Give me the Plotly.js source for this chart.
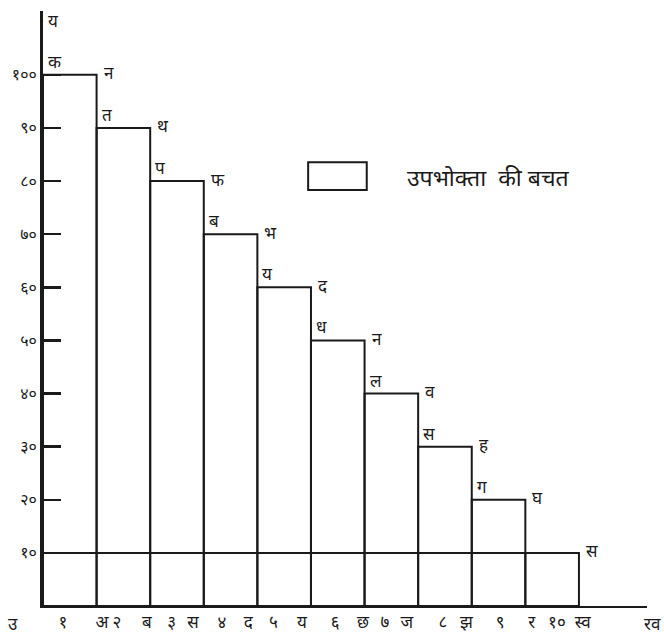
<!DOCTYPE html>
<html>
<head>
<meta charset="utf-8">
<script src="https://cdn.plot.ly/plotly-3.0.1.min.js"></script>
<style>html,body{margin:0;padding:0;background:#fff;}#chart{width:664px;height:636px;}</style>
</head>
<body>
<div id="chart"></div>
<script>
// Units bought (x) and price / utility per unit (y)
const units = [1, 2, 3, 4, 5, 6, 7, 8, 9, 10];
const utility = [100, 90, 80, 70, 60, 50, 40, 30, 20, 10];
const price = 10;
const leftCornerLabels = ["क", "त", "प", "ब", "य", "ध", "ल", "स", "ग", ""];
const rightCornerLabels = ["न", "थ", "फ", "भ", "द", "न", "व", "ह", "घ", "स"];
const yTickVals = [10, 20, 30, 40, 50, 60, 70, 80, 90, 100];
const yTickText = ["१०", "२०", "३०", "४०", "५०", "६०", "७०", "८०", "९०", "१००"];
const xNumLabels = ["१", "२", "३", "४", "५", "६", "७", "८", "९", "१०"];
const xNumPos = [0.37, 1.38, 2.4, 3.34, 4.3, 5.45, 6.38, 7.46, 8.53, 9.59];
const xLetLabels = ["अ", "ब", "स", "द", "य", "छ", "ज", "झ", "र", "स्व"];
const xLetPos = [1.1, 1.94, 2.8, 3.83, 4.83, 5.97, 6.79, 7.9, 9.12, 10.07];
const legendText = "उपभोक्ता &nbsp;की बचत";
const originLabel = "उ", xAxisEndLabel = "रव", yAxisEndLabel = "य";

const FONT = "'Noto Sans', 'Noto Sans Devanagari', 'Lohit Devanagari', sans-serif";
const INK = "#1a1a1a";

const barTrace = {
  type: "bar",
  x: units.map(u => u - 0.5),
  y: utility,
  width: 1,
  marker: {color: "rgba(255,255,255,0)", line: {color: INK, width: 2}},
  hoverinfo: "x+y",
  showlegend: false
};
const priceLine = {
  type: "scatter",
  mode: "lines",
  x: [0, units[units.length - 1]],
  y: [price, price],
  line: {color: INK, width: 2},
  showlegend: false,
  hoverinfo: "skip"
};

const annotations = [];
units.forEach((u, i) => {
  if (leftCornerLabels[i]) {
    annotations.push({x: u - 1, y: utility[i], xref: "x", yref: "y", text: leftCornerLabels[i],
      showarrow: false, xanchor: "left", yanchor: "bottom", xshift: 3, yshift: 0,
      font: {family: FONT, size: 17, color: INK}});
  }
  annotations.push({x: u, y: utility[i], xref: "x", yref: "y", text: rightCornerLabels[i],
    showarrow: false, xanchor: "left", yanchor: "middle", xshift: 5, yshift: 2,
    font: {family: FONT, size: 17, color: INK}});
});
annotations.push({x: -0.05, y: 0, xref: "paper", yref: "y", text: originLabel, showarrow: false,
  xanchor: "center", yanchor: "top", yshift: -4, font: {family: FONT, size: 17, color: INK}});
annotations.push({x: 1, y: 0, xref: "paper", yref: "y", text: xAxisEndLabel, showarrow: false,
  xanchor: "right", yanchor: "top", xshift: 16, yshift: -4, font: {family: FONT, size: 17, color: INK}});
annotations.push({x: 0, y: 112, xref: "x", yref: "y", text: yAxisEndLabel, showarrow: false,
  xanchor: "left", yanchor: "top", xshift: 3, yshift: 4, font: {family: FONT, size: 17, color: INK}});
annotations.push({x: 0.599, y: 0.721, xref: "paper", yref: "paper", text: legendText, showarrow: false,
  xanchor: "left", yanchor: "middle", font: {family: FONT, size: 23, color: INK}});

const layout = {
  width: 664, height: 636,
  margin: {l: 43, r: 17, t: 11, b: 30, pad: 0},
  paper_bgcolor: "#ffffff", plot_bgcolor: "#ffffff",
  showlegend: false,
  bargap: 0,
  xaxis: {
    range: [0, 11.27], showgrid: false, zeroline: false,
    showline: true, linecolor: INK, linewidth: 2,
    tickmode: "array", tickvals: xNumPos.concat(xLetPos), ticktext: xNumLabels.concat(xLetLabels),
    ticks: "", tickfont: {family: FONT, size: 17, color: INK}, fixedrange: true
  },
  yaxis: {
    range: [0, 112], showgrid: false, zeroline: false,
    showline: true, linecolor: INK, linewidth: 3,
    tickmode: "array", tickvals: yTickVals, ticktext: yTickText,
    ticks: "inside", ticklen: 18, tickwidth: 2.5, tickcolor: INK,
    tickfont: {family: FONT, size: 16, color: INK}, fixedrange: true
  },
  shapes: [{type: "rect", xref: "paper", yref: "paper", x0: 0.439, x1: 0.536, y0: 0.699, y1: 0.746,
    line: {color: INK, width: 2}, fillcolor: "rgba(0,0,0,0)"}],
  annotations: annotations
};

Plotly.newPlot("chart", [barTrace, priceLine], layout, {displayModeBar: false, staticPlot: true});
</script>
</body>
</html>
